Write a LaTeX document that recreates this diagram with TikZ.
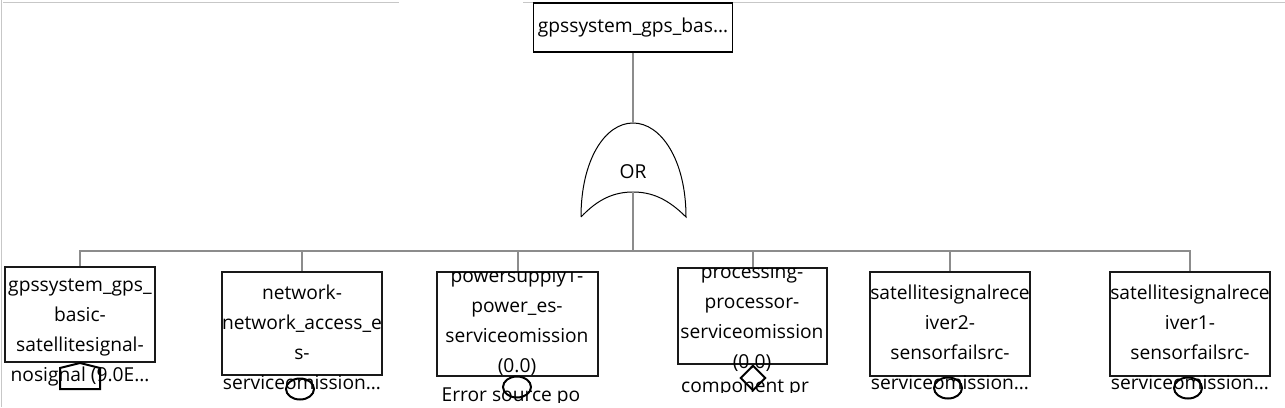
\documentclass[tikz,border=0pt]{standalone}
\usepackage{fontspec}
\setmainfont{Open Sans}
\usepackage{tikz}
\usetikzlibrary{shapes.geometric}

\begin{document}
\begin{tikzpicture}[x=0.75pt,y=-0.75pt,
                evbox/.style 2 args={draw=black!90,line width=1.9pt,minimum width=#1*0.75pt,minimum height=#2*0.75pt,inner sep=0pt},
                evtext/.style={align=center,inner sep=0pt,font=\fontsize{14.4}{22.5}\selectfont},
                link/.style={draw=black!45,line width=1.5pt},
                sym/.style={draw=black,line width=1.5pt,inner sep=0pt},
                chrome/.style={draw=black!22,line width=0.75pt}]
                \useasboundingbox (0,0) rectangle (1285,407);
                \draw[chrome] (3,2) -- (399,2);
                \draw[chrome] (523,2) -- (1285,2);
                \draw[chrome] (1,0) -- (1,407);
                \node[draw=black,line width=0.9pt,minimum width=199*0.75pt,minimum height=49*0.75pt,inner sep=0pt,font=\fontsize{14.4}{22.5}\selectfont] (T) at (633,27.5) {gpssystem\_gps\_bas…};
                \coordinate (G) at (633,123);
                \coordinate (Gin) at (633,192);
                \draw[line width=0.75pt] (581,217) .. controls (581,160) and (605,123) .. (G)
                    .. controls (661,123) and (686,160) .. (686,217)
                    .. controls (668,199) and (652,192) .. (Gin)
                    .. controls (614,192) and (598,199) .. (581,217);
                \node[font=\fontsize{14.4}{22.5}\selectfont,inner sep=0pt] (OR) at (633,172) {OR};
                \coordinate (bus) at (633,251);
                \node[evbox={150}{95}] (C1) at (80,314.5) {};
                \node[evbox={160}{103}] (C2) at (302,323.5) {};
                \node[evbox={161}{104}] (C3) at (517.5,324) {};
                \node[evbox={149}{96}] (C4) at (752.5,316) {};
                \node[evbox={160}{104}] (C5) at (950,324) {};
                \node[evbox={160}{104}] (C6) at (1190,324) {};
                \draw[link] (T) -- (G);
                \draw[link] (Gin) -- (bus);
                \foreach \c in {C1,C2,C3,C4,C5,C6}
                    \draw[link] (bus) -| (\c.north);
                \node[evtext] (C1t) at (80,332) {gpssystem\_gps\_\\basic-\\satellitesignal-\\nosignal (9.0E…};
                \node[evtext] (C2t) at (302,337) {network-\\network\_access\_e\\s-\\serviceomission…};
                \begin{scope}
                    \clip (420,272) rectangle (620,402);
                    \node[evtext] (C3t) at (517,321.5) {powersupply1-\\power\_es-\\serviceomission\\(0.0)};
                    \node[evtext] (C3l) at (511,397) {Error source po};
                \end{scope}
                \begin{scope}
                    \clip (660,268) rectangle (850,392);
                    \node[evtext] (C4t) at (752,317.5) {processing-\\processor-\\serviceomission\\(0.0)};
                    \node[evtext] (C4l) at (745,388) {component pr};
                \end{scope}
                \node[evtext] (C5t) at (950,337) {satellitesignalrece\\iver2-\\sensorfailsrc-\\serviceomission…};
                \node[evtext] (C6t) at (1190,337) {satellitesignalrece\\iver1-\\sensorfailsrc-\\serviceomission…};
                \draw[sym] (60,389) -- (60,368) -- (80,363) -- (100,368) -- (100,389) -- cycle;
                \node[sym,ellipse,minimum width=21pt,minimum height=15.75pt] (E2) at (300,389) {};
                \node[sym,ellipse,minimum width=21pt,minimum height=15.75pt] (E3) at (517,387) {};
                \node[sym,diamond,minimum width=19pt,minimum height=19pt] (D4) at (753,378) {};
                \node[sym,ellipse,minimum width=21pt,minimum height=15.75pt] (E5) at (948,388) {};
                \node[sym,ellipse,minimum width=21pt,minimum height=15.75pt] (E6) at (1188,388) {};
            \end{tikzpicture}
\end{document}
